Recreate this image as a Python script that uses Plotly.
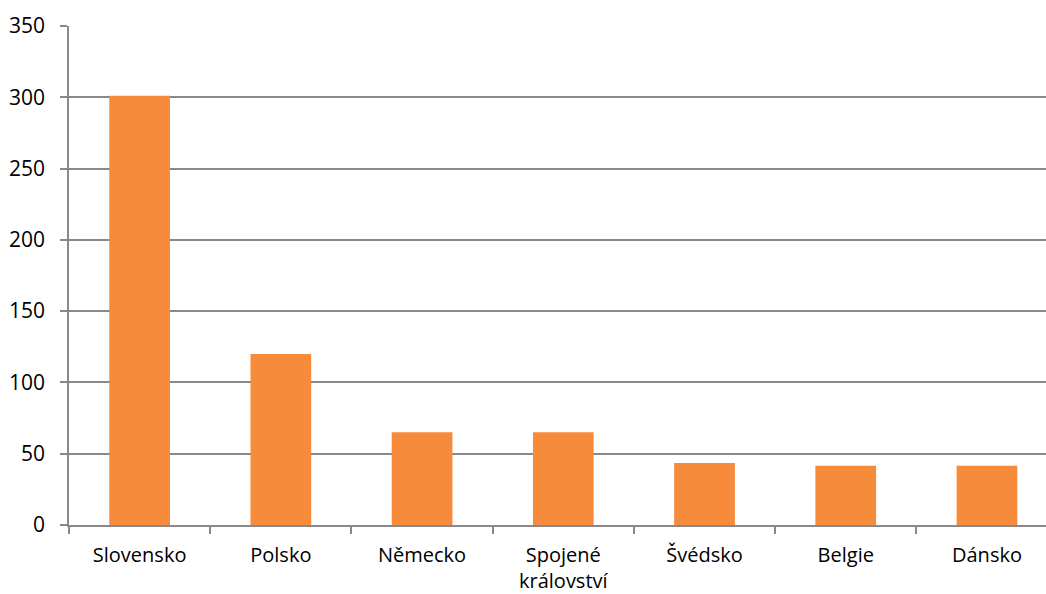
import plotly.graph_objects as go

categories = ["Slovensko", "Polsko", "Německo", "Spojené<br>království", "Švédsko", "Belgie", "Dánsko"]
values = [301, 120, 65, 65, 43.5, 41.5, 41.5]
y_ticks = [0, 50, 100, 150, 200, 250, 300, 350]

fig = go.Figure(go.Bar(x=categories, y=values, marker=dict(color="#F68B3C", line=dict(width=0))))

fig.update_layout(
    width=1046, height=594,
    margin=dict(l=69, r=0, t=26, b=69),
    paper_bgcolor="white", plot_bgcolor="white",
    bargap=0.57,
    showlegend=False,
    font=dict(family="Open Sans", size=21, color="#000000"),
)
fig.update_xaxes(
    type="category",
    range=[-0.5, 6.418],
    tickson="boundaries",
    ticks="outside", ticklen=7, tickcolor="#898989", tickwidth=1.5,
    showline=True, linecolor="#898989", linewidth=1.5,
    showgrid=False,
    tickfont=dict(size=20),
    ticklabelstandoff=11,
    automargin=False,
)
fig.update_yaxes(
    range=[0, 350],
    tickvals=y_ticks,
    ticks="outside", ticklen=7, tickcolor="#898989", tickwidth=1.5,
    showline=True, linecolor="#898989", linewidth=1.5,
    showgrid=True, gridcolor="#898989", gridwidth=1.5,
    zeroline=False,
    tickfont=dict(size=21),
    ticklabelstandoff=11,
    automargin=False,
)
fig.write_html(
    "out.html",
    config={"displayModeBar": False},
    post_script="document.body.style.margin='0';document.body.style.overflow='hidden';",
)
